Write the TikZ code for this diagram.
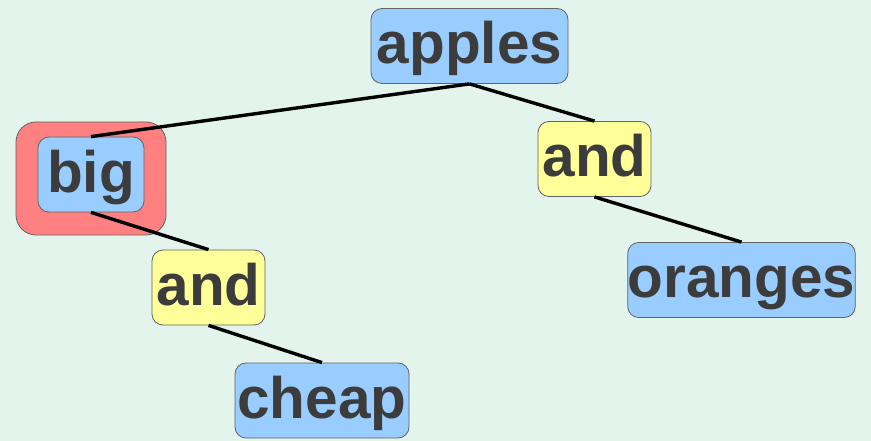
\documentclass[tikz,border=0pt]{standalone}
\usepackage{fontspec}
\setmainfont{Liberation Sans}
\definecolor{bg}{RGB}{227,244,236}
\definecolor{wordblue}{RGB}{153,204,255}
\definecolor{wordyellow}{RGB}{255,255,153}
\definecolor{wordred}{RGB}{255,128,128}
\definecolor{ink}{RGB}{60,60,60}
\tikzset{
  word/.style={draw=ink!80, line width=0.8pt, rounded corners=11pt, inner sep=0pt,
    minimum height=75pt, text height=42pt, text depth=6pt, text=ink,
    font=\fontsize{58.5}{60}\selectfont\bfseries},
  noun/.style={word, fill=wordblue},
  conj/.style={word, fill=wordyellow},
  branch/.style={line width=3.4pt, black}
}
\begin{document}
\begin{tikzpicture}[x=1pt,y=-1pt]
\fill[bg] (0,0) rectangle (871,441);
\useasboundingbox (0,0) rectangle (871,441);
\node[draw=ink!80, line width=0.8pt, fill=wordred, rounded corners=20pt, minimum width=150pt, minimum height=113pt] (focus) at (91,178.5) {};
\node[noun, minimum width=197pt] (apples) at (469.5,46) {apples};
\node[noun, minimum width=106pt] (big) at (91,174.5) {big};
\node[conj, minimum width=113pt] (and1) at (594.5,159) {and};
\node[noun, minimum width=227pt] (oranges) at (741.5,280) {oranges};
\node[conj, minimum width=113pt] (and2) at (208.5,287.5) {and};
\node[noun, minimum width=174pt] (cheap) at (322,400.5) {cheap};
\draw[branch] (apples.south) -- (big.north);
\draw[branch] (apples.south) -- (and1.north);
\draw[branch] (and1.south) -- (oranges.north);
\draw[branch] (big.south) -- (and2.north);
\draw[branch] (and2.south) -- (cheap.north);
\end{tikzpicture}
\end{document}
